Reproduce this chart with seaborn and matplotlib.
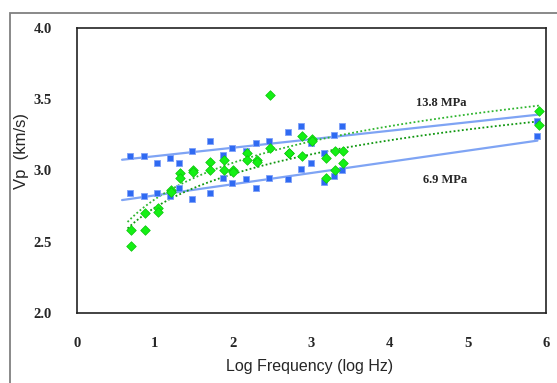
import numpy as np
import pandas as pd
import matplotlib
matplotlib.use('Agg')
import matplotlib.pyplot as plt
from matplotlib.patches import Rectangle
import seaborn as sns

# log frequency of the blue (first) series and green (second) series
blue_freq = [0.68, 0.86, 1.03, 1.19, 1.31, 1.47, 1.70, 1.87, 1.99, 2.16,
             2.29, 2.46, 2.70, 2.87, 3.00, 3.16, 3.29, 3.39, 5.89]
green_freq = [0.70, 0.87, 1.04, 1.21, 1.32, 1.49, 1.70, 1.88, 2.00, 2.18,
              2.30, 2.47, 2.71, 2.88, 3.01, 3.19, 3.30, 3.40, 5.91]

# Vp (km/s)
blue_13_8 = [3.10, 3.10, 3.05, 3.09, 3.05, 3.14, 3.21, 3.11, 3.16, 3.14,
             3.19, 3.21, 3.27, 3.31, 3.19, 3.12, 3.25, 3.31, 3.35]
blue_6_9 = [2.84, 2.82, 2.84, 2.82, 2.88, 2.80, 2.84, 2.95, 2.91, 2.94,
            2.88, 2.95, 2.94, 3.01, 3.05, 2.92, 2.96, 3.00, 3.24]
green_13_8 = [2.58, 2.70, 2.74, 2.86, 2.98, 3.00, 3.06, 3.07, 3.00, 3.12,
              3.07, 3.53, 3.12, 3.24, 3.22, 3.09, 3.14, 3.14, 3.42]
green_6_9 = [2.47, 2.58, 2.71, 2.85, 2.95, 2.99, 3.00, 3.00, 2.99, 3.07,
             3.06, 3.16, 3.12, 3.10, 3.21, 2.95, 3.00, 3.05, 3.32]

labels = ['13.8 MPa', '6.9 MPa']

sns.set_style('white')

fig = plt.figure(figsize=(5.57, 3.83), dpi=100)
ax = fig.add_axes([0.1377, 0.1828, 0.8426, 0.7442])

blue = pd.DataFrame({'x': blue_freq * 2, 'vp': blue_13_8 + blue_6_9})
green = pd.DataFrame({'x': green_freq * 2, 'vp': green_13_8 + green_6_9})

# trendlines: linear for blue, logarithmic for green
xb = np.array(blue_freq)
for ys in [blue_13_8, blue_6_9]:
    k, b = np.polyfit(xb, ys, 1)
    xx = np.linspace(xb.min() - 0.1, xb.max(), 50)
    ax.plot(xx, k * xx + b, color='#7fa4f4', lw=1.6, zorder=2)

xg = np.array(green_freq)
for ys, col in [(green_13_8, '#2fb52f'), (green_6_9, '#0e960e')]:
    k, b = np.polyfit(np.log(xg), ys, 1)
    xx = np.linspace(xg.min() - 0.05, xg.max(), 200)
    ax.plot(xx, k * np.log(xx) + b, color=col, lw=1.3, ls=(0, (1, 1.3)), zorder=3)

sns.scatterplot(data=blue, x='x', y='vp', marker='s', s=24, color='#2f6af2',
                edgecolor='#7fa0f8', linewidth=0.6, ax=ax, zorder=4)
sns.scatterplot(data=green, x='x', y='vp', marker='D', s=24, color='#14f014',
                edgecolor='#0cc40c', linewidth=0.5, ax=ax, zorder=5)

ax.set_xlim(0, 6)
ax.set_ylim(2.0, 4.0)
ax.set_xticks(range(0, 7))
ax.set_yticks([2.0, 2.5, 3.0, 3.5, 4.0])
ax.set_yticklabels(['2.0', '2.5', '3.0', '3.5', '4.0'])

for s in ax.spines.values():
    s.set_color('#222222')
    s.set_linewidth(1.2)

ax.tick_params(axis='x', direction='inout', length=6, width=1, pad=14, color='#222222')
ax.tick_params(axis='y', direction='out', length=5, width=1, pad=13, color='#222222')
for t in ax.get_xticklabels() + ax.get_yticklabels():
    t.set_fontfamily('Liberation Serif')
    t.set_fontweight('bold')
    t.set_fontsize(10.5)

ax.set_xlabel('Log Frequency (log Hz)', fontfamily='Liberation Sans', fontsize=11.5)
ax.set_ylabel('Vp  (km/s)', fontfamily='Liberation Sans', fontsize=12)
ax.xaxis.set_label_coords(0.496, -0.162)
ax.yaxis.set_label_coords(-0.101, 0.57)

ax.text(4.66, 3.47, labels[0], ha='center', va='center', fontfamily='Liberation Serif',
        fontweight='bold', fontsize=9)
ax.text(4.71, 2.93, labels[1], ha='center', va='center', fontfamily='Liberation Serif',
        fontweight='bold', fontsize=9)

# outer chart border (only left and top show)
fig.add_artist(Rectangle((10 / 557, -0.2), 1.2, 1.2 - 13 / 383,
                         transform=fig.transFigure, fill=False,
                         edgecolor='#808080', lw=1.3))

fig.savefig('out.png', dpi=100)
